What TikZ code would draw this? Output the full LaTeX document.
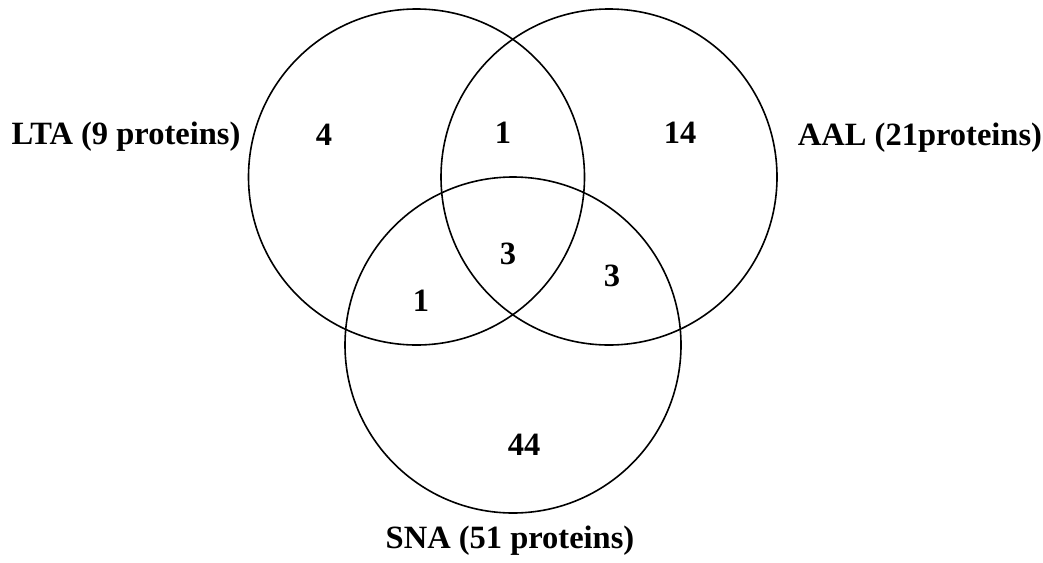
\documentclass[tikz,border=0pt]{standalone}
\usepackage{fontspec}
\setmainfont{Liberation Serif}
\begin{document}
\begin{tikzpicture}[x=1pt,y=-1pt,
  setcircle/.style={draw=black,line width=1.6pt,circle,minimum size=336pt,inner sep=0pt},
  lbl/.style={font=\fontsize{32.5}{36}\selectfont\bfseries,anchor=base,inner sep=0pt},
  num/.style={font=\fontsize{32.5}{36}\selectfont\bfseries,anchor=base,inner sep=0pt}]
\useasboundingbox (0,0) rectangle (1043,562);
\node[setcircle] (lta) at (416.5,177) {};
\node[setcircle] (aal) at (609,177) {};
\node[setcircle] (sna) at (513,345) {};
\node[lbl] (ltaL) at (126,144) {LTA (9 proteins)};
\node[lbl] (aalL) at (920,145) {AAL (21proteins)};
\node[lbl] (snaL) at (510,548) {SNA (51 proteins)};
\node[num] (n4) at (324,145) {4};
\node[num] (n1a) at (503,143) {1};
\node[num] (n14) at (680,143) {14};
\node[num] (n3c) at (508,264) {3};
\node[num] (n3r) at (612,286) {3};
\node[num] (n1l) at (421,311) {1};
\node[num] (n44) at (524,455) {44};
\end{tikzpicture}
\end{document}
